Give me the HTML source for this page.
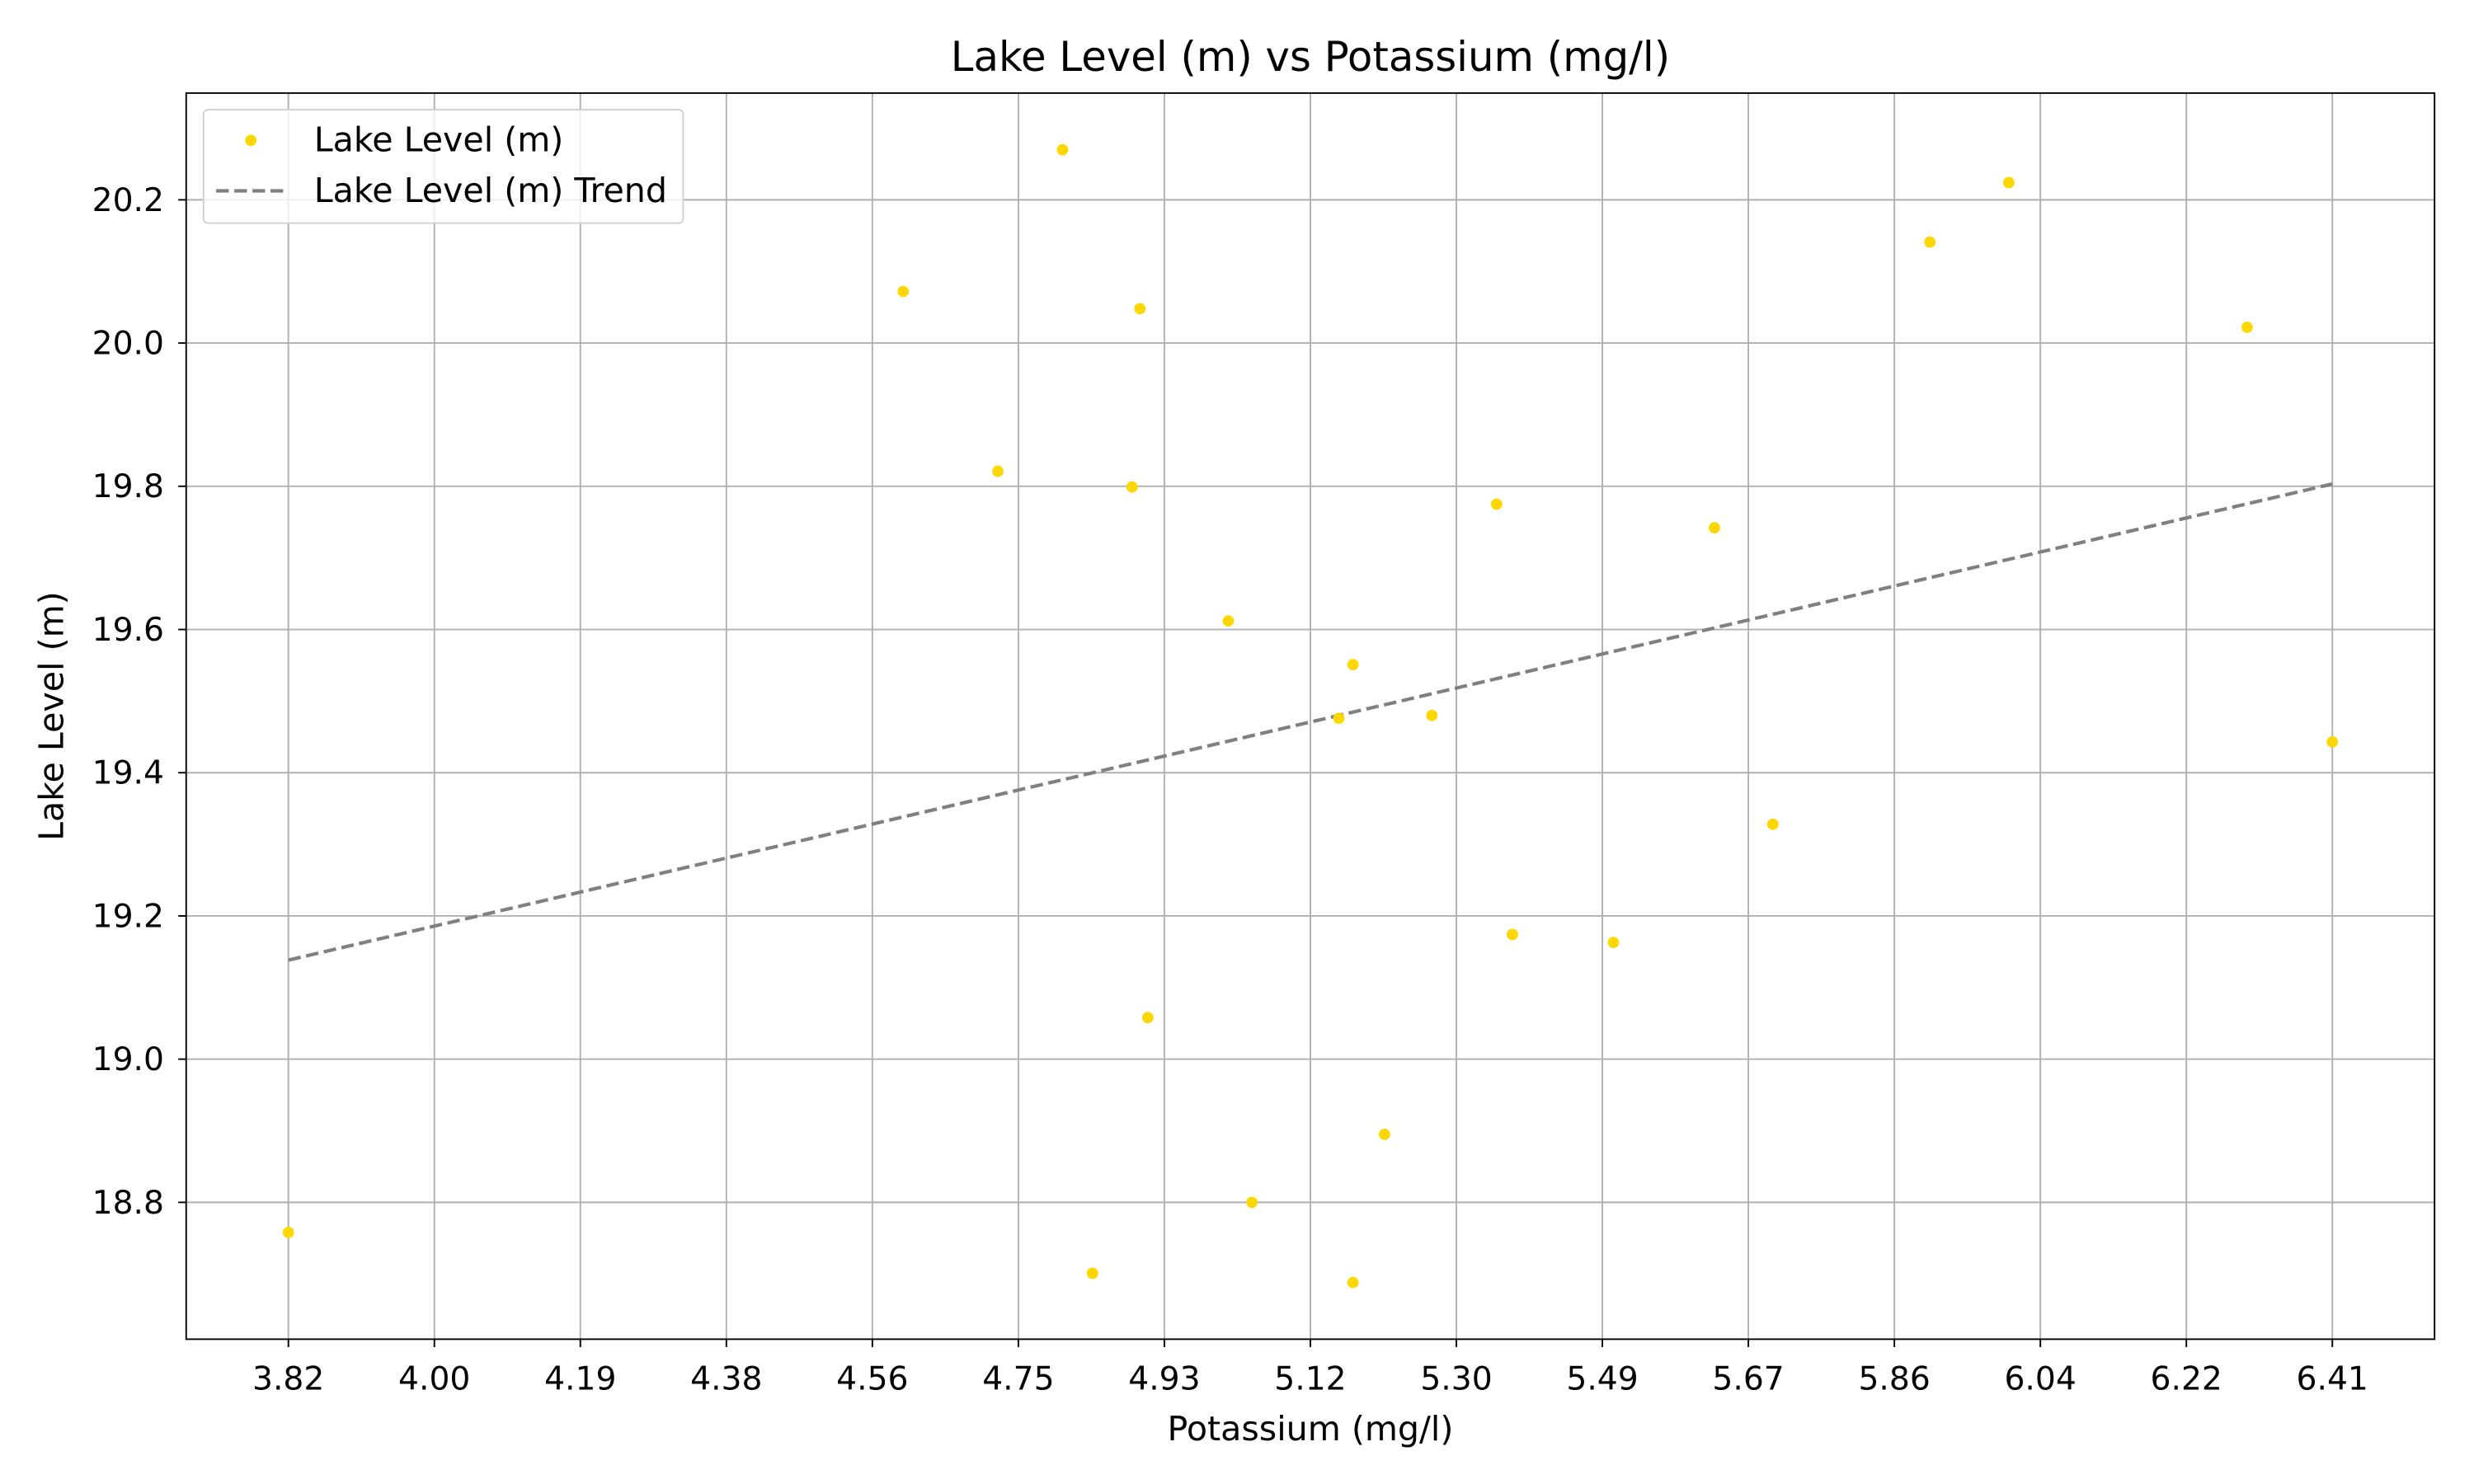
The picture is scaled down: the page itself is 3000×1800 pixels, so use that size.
<!DOCTYPE html>
<html><head><meta charset="utf-8"><style>
html,body{margin:0;padding:0;background:#fff}
svg{display:block}
text{font-family:"DejaVu Sans","Liberation Sans",sans-serif;fill:#000}
</style></head><body>
<svg id="chart" width="3000" height="1800" viewBox="0 0 1568 940.8" xmlns="http://www.w3.org/2000/svg">
<rect width="1568" height="940.8" fill="#fff"/>
<g id="grid"></g>
<g id="trend"></g>
<g id="points"></g>
<rect x="118" y="59" width="1425" height="790" fill="none" stroke="#000" stroke-width="1"/>
<g id="xticks"></g>
<g id="yticks"></g>
<text x="830.5" y="45" font-size="26" text-anchor="middle">Lake Level (m) vs Potassium (mg/l)</text>
<text x="830.5" y="913" font-size="21.5" text-anchor="middle">Potassium (mg/l)</text>
<text transform="translate(40,454) rotate(-90)" font-size="21.5" text-anchor="middle">Lake Level (m)</text>
<g>
<rect x="129" y="69.5" width="304" height="72" rx="3" fill="#fff" fill-opacity="0.8" stroke="#d0d0d0" stroke-width="1"/>
<g>
<circle cx="159" cy="89" r="3.6" fill="#FFD700"/>
<text x="199" y="96" font-size="21.5">Lake Level (m)</text>
</g>
<g>
<line x1="137" y1="121" x2="181" y2="121" stroke="#808080" stroke-width="2.2" stroke-dasharray="8,3.5"/>
<text x="199" y="128" font-size="21.5">Lake Level (m) Trend</text>
</g>
</g>
</svg>
<script>
const xValues=[3.82,4.599,4.719,4.801,4.839,4.889,4.899,4.909,5.011,5.041,5.151,5.169,5.169,5.209,5.269,5.351,5.371,5.499,5.627,5.701,5.900,6.000,6.302,6.410];
const yValues=[18.758,20.072,19.821,20.270,18.701,19.799,20.048,19.058,19.612,18.800,19.476,19.551,18.688,18.895,19.480,19.775,19.174,19.163,19.742,19.328,20.141,20.224,20.022,19.443];
const yTicks=[18.8,19.0,19.2,19.4,19.6,19.8,20.0,20.2];
const xTickCount=15;

const NS="http://www.w3.org/2000/svg";
const L=118,R=1543,T=59,B=849;
const xmin=Math.min(...xValues),xmax=Math.max(...xValues);
const ymin=Math.min(...yValues),ymax=Math.max(...yValues);
const xpad=(xmax-xmin)*0.05,ypad=(ymax-ymin)*0.05;
const X0=xmin-xpad,X1=xmax+xpad,Y0=ymin-ypad,Y1=ymax+ypad;
const sx=v=>L+(v-X0)/(X1-X0)*(R-L);
const sy=v=>B-(v-Y0)/(Y1-Y0)*(B-T);
function mk(tag,attrs,parent){const e=document.createElementNS(NS,tag);for(const k in attrs)e.setAttribute(k,attrs[k]);document.getElementById(parent).appendChild(e);return e;}

const xTicks=[];for(let i=0;i<xTickCount;i++)xTicks.push(xmin+(xmax-xmin)*i/(xTickCount-1));
xTicks.forEach(v=>{
  const x=sx(v);
  const g=mk('line',{x1:x,x2:x,y1:T,y2:B,stroke:'#b0b0b0','stroke-width':1},'grid');
  
  
  const t=mk('line',{x1:x,x2:x,y1:B,y2:B+5,stroke:'#000','stroke-width':1},'xticks');
  
  
  const l=mk('text',{x:x,y:B+32,'font-size':20.5,'text-anchor':'middle'},'xticks');
  l.textContent=v.toFixed(2);
  
  
});
yTicks.forEach(v=>{
  const y=sy(v);
  const g=mk('line',{x1:L,x2:R,y1:y,y2:y,stroke:'#b0b0b0','stroke-width':1},'grid');
  
  
  const t=mk('line',{x1:L-5,x2:L,y1:y,y2:y,stroke:'#000','stroke-width':1},'yticks');
  
  
  const l=mk('text',{x:L-14,y:y+7,'font-size':20.5,'text-anchor':'end'},'yticks');
  l.textContent=v.toFixed(1);
  
  
});
const n=xValues.length;
const mx=xValues.reduce((a,b)=>a+b)/n,my=yValues.reduce((a,b)=>a+b)/n;
let sxy=0,sxx=0;for(let i=0;i<n;i++){sxy+=(xValues[i]-mx)*(yValues[i]-my);sxx+=(xValues[i]-mx)**2;}
const slope=sxy/sxx,icpt=my-slope*mx;
const tl=mk('line',{x1:sx(xmin),y1:sy(icpt+slope*xmin),x2:sx(xmax),y2:sy(icpt+slope*xmax),stroke:'#808080','stroke-width':2.2,'stroke-dasharray':'8,3.5'},'trend');


xValues.forEach((v,i)=>{
  const c=mk('circle',{cx:sx(v),cy:sy(yValues[i]),r:3.6,fill:'#FFD700'},'points');
  
  
});
</script>
</body></html>
